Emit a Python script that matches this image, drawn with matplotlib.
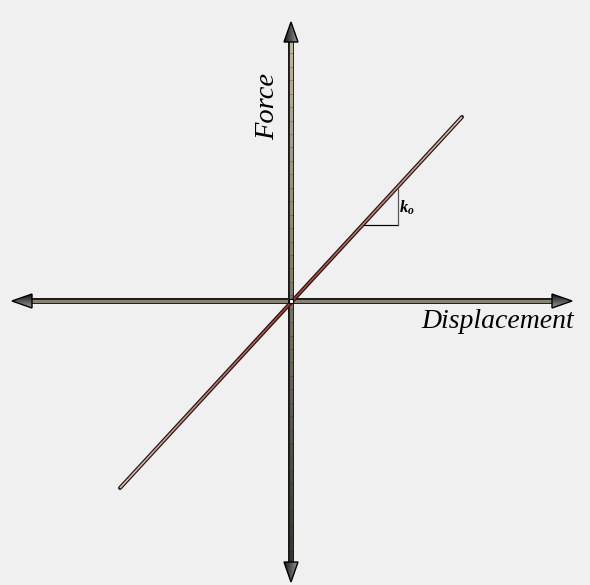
import numpy as np
import matplotlib.pyplot as plt
from matplotlib.patches import Polygon

# schematic values, in pixel units relative to the origin (up = positive force)
origin = (291, 301)
disp_axis = [-279, 281]      # left tip, right tip of the displacement axis
force_axis = [-281, 279]     # bottom tip, top tip of the force axis
line_disp = [-171, 171]      # ends of the linear-stiffness line
line_force = [-187, 184]
tri_disp = [73, 107, 107]    # slope triangle k_o
tri_force = [76, 76, 113]

PX = 0.72  # one pixel in points at dpi 100

plt.rcParams['mathtext.fontset'] = 'custom'
plt.rcParams['mathtext.it'] = 'Liberation Serif:bold:italic'
plt.rcParams['mathtext.rm'] = 'Liberation Serif:bold'

fig = plt.figure(figsize=(5.9, 5.85), dpi=100, facecolor='#f0f0f0')
ax = fig.add_axes([0, 0, 1, 1])
ax.set_xlim(0, 590)
ax.set_ylim(585, 0)
ax.axis('off')
ax.set_facecolor('#f0f0f0')

ox, oy = origin

def X(d):
    return ox + np.asarray(d, dtype=float)

def Y(f):
    return oy - np.asarray(f, dtype=float)

def arrow_head(tip, direction, length=20, half=7):
    tx, ty = tip
    dx, dy = direction
    px, py = -dy, dx
    bx, by = tx - dx * length, ty - dy * length
    pts = [(tx, ty), (bx + px * half, by + py * half), (bx - px * half, by - py * half)]
    poly = Polygon(pts, closed=True, facecolor='none', edgecolor='black', lw=1.0, zorder=6)
    ax.add_patch(poly)
    # gradient fill, dark on one side
    xs = [p[0] for p in pts]
    ys = [p[1] for p in pts]
    grad = np.linspace(0.08, 0.6, 64)
    if dx != 0:
        img = np.tile(grad[:, None], (1, 64))
    else:
        img = np.tile(grad[None, :], (64, 1))
    im = ax.imshow(img, cmap='gray', vmin=0, vmax=1, aspect='auto',
                   extent=[min(xs), max(xs), max(ys), min(ys)], zorder=5,
                   interpolation='bilinear')
    im.set_clip_path(poly)

# axes shafts (double line look)
hx = X(disp_axis)
ax.plot([hx[0] + 18, hx[1] - 18], [oy, oy], color='#1a1a1a', lw=6 * PX,
        solid_capstyle='butt', zorder=2)
ax.plot([hx[0] + 18, hx[1] - 18], [oy, oy], color='#8a8270', lw=3.2 * PX,
        solid_capstyle='butt', zorder=2)
vy = Y(force_axis)
ax.plot([ox, ox], [vy[1] + 18, vy[0] - 18], color='#1a1a1a', lw=6 * PX,
        solid_capstyle='butt', zorder=2)
segs = np.linspace(vy[1] + 18, vy[0] - 18, 40)
shade = np.linspace(0.75, 0.22, 39)
for i in range(39):
    c = (shade[i], shade[i] * 0.95, shade[i] * 0.8)
    ax.plot([ox, ox], [segs[i], segs[i + 1]], color=c, lw=3.2 * PX,
            solid_capstyle='butt', zorder=2)

arrow_head((hx[0], oy), (-1, 0))
arrow_head((hx[1], oy), (1, 0))
arrow_head((ox, vy[1]), (0, -1))
arrow_head((ox, vy[0]), (0, 1))

# stiffness line
lx, ly = X(line_disp), Y(line_force)
ax.plot(lx, ly, color='#1a1a1a', lw=4 * PX, solid_capstyle='round', zorder=3)
t = np.linspace(0, 1, 41)
for i in range(40):
    m = abs((t[i] + t[i + 1]) / 2 - 0.5) * 2
    c = (0.72 + 0.2 * m, 0.2 + 0.55 * m, 0.15 + 0.55 * m)
    ax.plot([lx[0] + (lx[1] - lx[0]) * t[i], lx[0] + (lx[1] - lx[0]) * t[i + 1]],
            [ly[0] + (ly[1] - ly[0]) * t[i], ly[0] + (ly[1] - ly[0]) * t[i + 1]],
            color=c, lw=1.6 * PX, solid_capstyle='butt', zorder=4)
ax.plot([ox], [oy], marker='s', ms=4 * PX, mfc='white', mec='black', mew=0.8, zorder=7)

# slope triangle
ax.plot(X(tri_disp[:2]), Y(tri_force[:2]), color='black', lw=1.2 * PX, zorder=3)
ax.plot(X(tri_disp[1:]), Y(tri_force[1:]), color='#555555', lw=1.2 * PX, zorder=3)
ax.text(X(tri_disp[1]) + 1, Y(93), r'$k_o$', fontsize=12, ha='left', va='center',
        color='black', zorder=8)

ax.text(268, 106, 'Force', fontsize=20.5, family='Liberation Serif', style='italic',
        rotation=90, ha='center', va='center', color='black')
ax.text(498, 321, 'Displacement', fontsize=20, family='Liberation Serif', style='italic',
        ha='center', va='center', color='black')

fig.savefig('out.png', dpi=100, facecolor=fig.get_facecolor())
